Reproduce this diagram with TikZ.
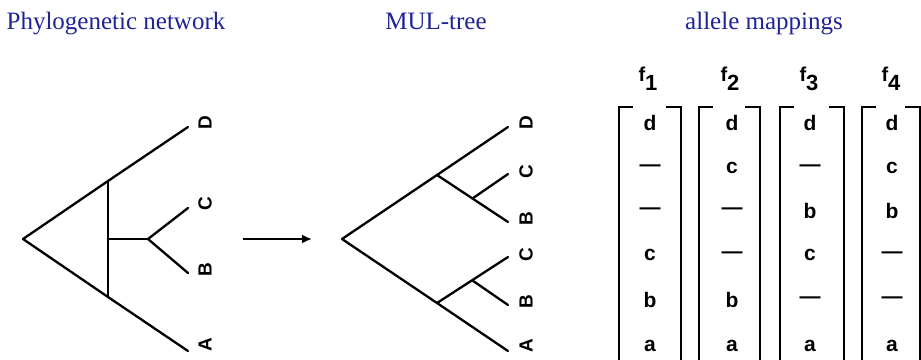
\documentclass[tikz,border=0pt]{standalone}
\usepackage{fontspec}
\setmainfont{Liberation Serif}
\newfontfamily\arialf{Liberation Sans}
\usetikzlibrary{arrows.meta}
\definecolor{ttl}{RGB}{30,35,150}
\begin{document}
\begin{tikzpicture}[x=1pt,y=-1pt,
  edge/.style={line width=2.3pt, line cap=round, line join=round},
  ttitle/.style={font=\fontsize{25}{30}\selectfont, text=ttl, anchor=base, inner sep=0},
  leaf/.style={font=\arialf\bfseries\fontsize{19}{22}\selectfont, rotate=90, inner sep=0},
  cell/.style={font=\arialf\bfseries\fontsize{21}{24}\selectfont, inner sep=0},
  flab/.style={font=\arialf\bfseries\fontsize{20}{24}\selectfont, inner sep=0, anchor=base},
  brk/.style={line width=2.2pt},
]
\useasboundingbox (0,0) rectangle (921,359);
% titles
\node[ttitle] (t1) at (116,29) {Phylogenetic network};
\node[ttitle] (t2) at (436,29) {MUL-tree};
\node[ttitle] (t3) at (764,29) {allele mappings};

% network
\coordinate (r) at (23,239);
\coordinate (u) at (108,181);
\coordinate (l) at (108,297);
\coordinate (m) at (108,239);
\coordinate (h) at (148,239);
\coordinate (nD) at (188,127);
\coordinate (nC) at (188,208);
\coordinate (nB) at (188,273);
\coordinate (nA) at (188,351);
\draw[edge] (nD) -- (u) -- (r) -- (l) -- (nA);
\draw[edge] (u) -- (l);
\draw[edge] (m) -- (h);
\draw[edge] (nC) -- (h) -- (nB);
\node[leaf] (lD) at (205,123) {D};
\node[leaf] (lC) at (205,204) {C};
\node[leaf] (lB) at (205,270) {B};
\node[leaf] (lA) at (205,345) {A};

% arrow
\coordinate (a1) at (243,239);
\coordinate (a2) at (312,239);
\draw[line width=2pt, -{Latex[length=10pt,width=9pt]}] (a1) -- (a2);

% MUL-tree
\coordinate (R) at (342,239);
\coordinate (U) at (437,175);
\coordinate (L) at (437,303);
\coordinate (mD) at (508,127);
\coordinate (mB1) at (508,222);
\coordinate (mC1) at (508,174);
\coordinate (s1) at (472.5,198.5);
\coordinate (mC2) at (508,257);
\coordinate (mB2) at (508,305);
\coordinate (s2) at (472.5,280.5);
\coordinate (mA) at (508,351);
\draw[edge] (mD) -- (U) -- (R) -- (L) -- (mA);
\draw[edge] (U) -- (mB1);
\draw[edge] (s1) -- (mC1);
\draw[edge] (L) -- (mC2);
\draw[edge] (s2) -- (mB2);
\node[leaf] (kD) at (526,123) {D};
\node[leaf] (kC1) at (526,172) {C};
\node[leaf] (kB1) at (526,219) {B};
\node[leaf] (kC2) at (526,255) {C};
\node[leaf] (kB2) at (526,302) {B};
\node[leaf] (kA) at (526,346) {A};

% f labels
\node[flab] (f1) at (648,81) {f\raisebox{-9pt}{\fontsize{22}{24}\selectfont 1}};
\node[flab] (f2) at (730,81) {f\raisebox{-9pt}{\fontsize{22}{24}\selectfont 2}};
\node[flab] (f3) at (809,81) {f\raisebox{-9pt}{\fontsize{22}{24}\selectfont 3}};
\node[flab] (f4) at (891,81) {f\raisebox{-9pt}{\fontsize{22}{24}\selectfont 4}};

% brackets
\foreach \xl/\xr in {619/681, 699/760, 780/844, 862/920}{
  \draw[brk] (\xl+14,107) -- (\xl,107) -- (\xl,366);
  \draw[brk] (\xr-15,107) -- (\xr,107) -- (\xr,366);
}

% cells
\foreach \x [count=\c] in {650,732,810,892}{
  \foreach \y [count=\r] in {123,168,211,255,300,346}{
    \coordinate (p\c-\r) at (\x,\y);
  }
}
\foreach \c/\col in {1/{d,—,—,c,b,a}, 2/{d,c,—,—,b,a}, 3/{d,—,b,c,—,a}, 4/{d,c,b,—,—,a}}{
  \foreach \t [count=\r] in \col {
    \node[cell] (c\c-\r) at (p\c-\r) {\t};
  }
}
\end{tikzpicture}
\end{document}
